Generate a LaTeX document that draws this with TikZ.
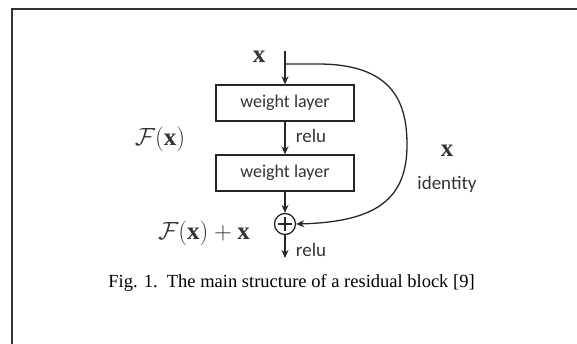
\documentclass[tikz,border=0pt]{standalone}
\usepackage{fontspec}
\usepackage{amsmath}
\setmainfont{Liberation Serif}
\newfontfamily\boxfont{Carlito}
\usetikzlibrary{arrows.meta}
\tikzset{
  wl/.style={draw=black!85, line width=1.3pt, minimum width=138pt, minimum height=36pt, inner sep=0pt, font=\boxfont\fontsize{18}{20}\selectfont, text=black!80},
  lbl/.style={font=\boxfont\fontsize{19}{21}\selectfont, text=black!80, inner sep=0pt},
  mth/.style={font=\fontsize{25}{27}\selectfont, text=black!80, inner sep=0pt},
  conn/.style={draw=black!85, line width=1.3pt, -{Stealth[length=8pt,width=7pt]}},
  sumc/.style={circle, draw=black!85, line width=1.3pt, minimum size=21pt, inner sep=0pt}
}
\begin{document}
\begin{tikzpicture}[x=1pt,y=-1pt]
\useasboundingbox (0,0) rectangle (577,343);
\draw[black!80, line width=2pt] (12,360) -- (12,9) -- (600,9);
% nodes
\coordinate (xin) at (285,51);
\coordinate (split) at (285,64);
\node[wl] (b1) at (285,103) {weight layer};
\node[wl] (b2) at (285,173) {weight layer};
\node[sumc] (plus) at (285,224) {};
\draw[black!85, line width=1.1pt] (285,217) -- (285,231) (278,224) -- (292,224);
\coordinate (out) at (285,258);
% connectors
\draw[conn] (xin) -- (b1.north);
\draw[conn] (b1.south) -- (b2.north);
\draw[conn] (b2.south) -- (plus.north);
\draw[conn] (plus.south) -- (out);
\draw[conn] (split) -- (318,64) .. controls (395,64) and (407,105) .. (407,145) .. controls (407,200) and (375,222) .. (plus.east);
% labels
\node[mth] (tx) at (259,57) {$\mathbf{x}$};
\node[mth] (fx) at (160,139) {$\mathcal{F}(\mathbf{x})$};
\node[mth] (fxx) at (204,233) {$\mathcal{F}(\mathbf{x})+\mathbf{x}$};
\node[mth] (rx) at (447,151) {$\mathbf{x}$};
\node[lbl] (id) at (447,184) {identity};
\node[lbl] (r1) at (311,136) {relu};
\node[lbl] (r2) at (311,250) {relu};
\node[font=\fontsize{18.5}{20}\selectfont, inner sep=0pt] (cap) at (291.5,283) {Fig. 1.\ \ The main structure of a residual block [9]};
\end{tikzpicture}
\end{document}
